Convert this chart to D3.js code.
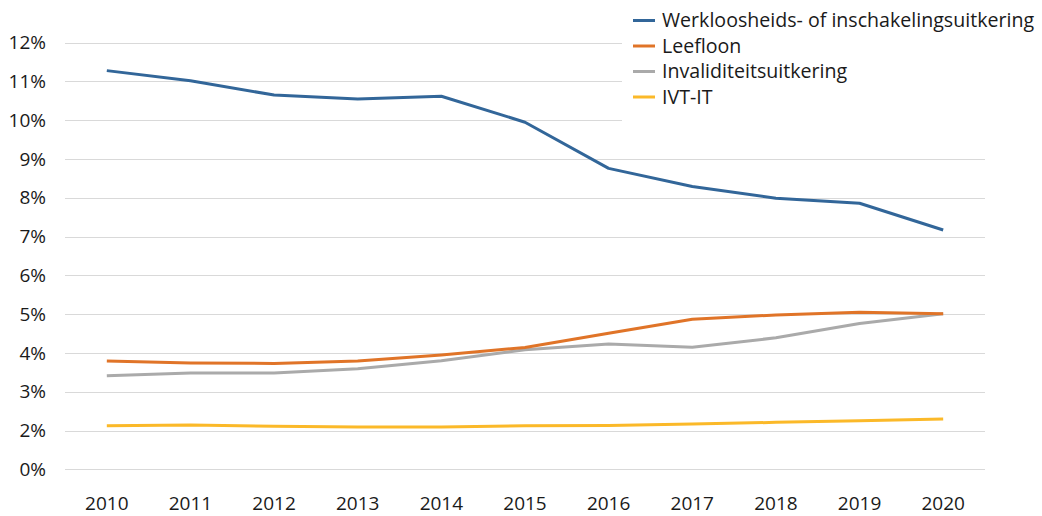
<!DOCTYPE html>
<html><head><meta charset="utf-8">
<script src="https://cdn.jsdelivr.net/npm/d3@7"></script>
<style>
html,body{margin:0;padding:0;background:#fff;}
text{font-family:"Open Sans",sans-serif;fill:#1a1a1a;}
</style></head>
<body><svg id="c" width="1042" height="516"></svg>
<script>
const years = [2010,2011,2012,2013,2014,2015,2016,2017,2018,2019,2020];
const seriesNames = ["Werkloosheids- of inschakelingsuitkering","Leefloon","Invaliditeitsuitkering","IVT-IT"];
const werkloosheid = [11.28,11.02,10.65,10.55,10.62,9.95,8.76,8.29,7.99,7.86,7.17];
const leefloon = [3.79,3.74,3.73,3.79,3.95,4.14,4.51,4.87,4.98,5.05,5.01];
const invaliditeit = [3.41,3.48,3.48,3.59,3.80,4.08,4.23,4.15,4.39,4.76,5.01];
const ivtit = [2.12,2.14,2.11,2.09,2.09,2.12,2.13,2.17,2.21,2.25,2.30];
const yTicks = [1,2,3,4,5,6,7,8,9,10,11,12];
const yTickLabels = ["0%","2%","3%","4%","5%","6%","7%","8%","9%","10%","11%","12%"];
const colors = ["#326699","#E07428","#AAAAAA","#FBB929"];

const svg = d3.select("#c");
const x0 = 65, x1 = 985, yTop = 42.7, yBot = 469.3;
const x = d3.scaleBand().domain(years).range([x0, x1]);
const y = d3.scaleLinear().domain([1,12]).range([yBot, yTop]);
const xc = d => x(d) + x.bandwidth()/2;

// gridlines
svg.append("g").selectAll("line").data(yTicks).join("line")
  .attr("x1", x0).attr("x2", x1)
  .attr("y1", d => Math.round(y(d))+0.5).attr("y2", d => Math.round(y(d))+0.5)
  .attr("stroke", "#d9d9d9").attr("stroke-width", 1);

// y labels
svg.append("g").selectAll("text").data(yTicks).join("text")
  .attr("x", 46).attr("y", d => y(d)).attr("dy", "0.35em")
  .attr("text-anchor", "end").attr("font-size", 19)
  .text((d,i) => yTickLabels[i]);

// x labels
svg.append("g").selectAll("text").data(years).join("text")
  .attr("x", d => xc(d)).attr("y", 503).attr("dy", "0.35em")
  .attr("text-anchor", "middle").attr("font-size", 19)
  .text(d => d);

// lines
const all = [werkloosheid, leefloon, invaliditeit, ivtit];
const line = d3.line().x((d,i) => xc(years[i])).y(d => y(d));
// draw order: yellow, gray, orange, blue
[3,2,1,0].forEach(k => {
  svg.append("path").datum(all[k]).attr("d", line)
    .attr("fill","none").attr("stroke", colors[k]).attr("stroke-width", 3)
    .attr("stroke-linejoin","round");
});

// legend
const lg = svg.append("g");
lg.append("rect").attr("x", 622).attr("y", 0).attr("width", 420).attr("height", 124).attr("fill", "#fff");
const ly = d3.scaleLinear().domain([0,3]).range([20.5, 97]);
seriesNames.forEach((n,i) => {
  lg.append("line").attr("x1", 633).attr("x2", 655).attr("y1", ly(i)).attr("y2", ly(i))
    .attr("stroke", colors[i]).attr("stroke-width", 3);
  lg.append("text").attr("x", 662).attr("y", ly(i)).attr("dy", "0.35em")
    .attr("font-size", 19.6).text(n);
});
</script></body></html>
